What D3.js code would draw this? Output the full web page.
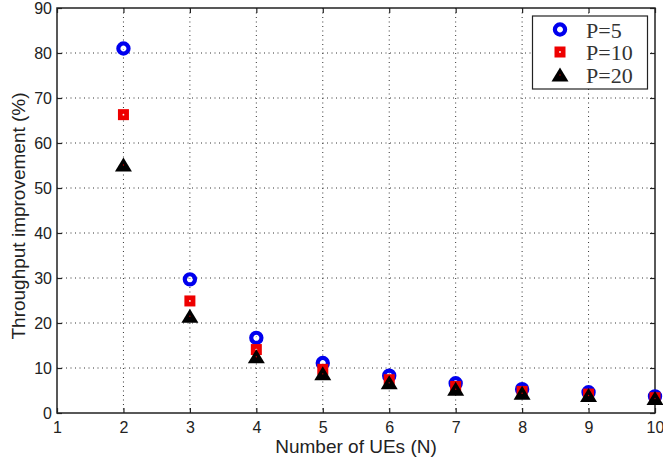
<!DOCTYPE html>
<html>
<head>
<meta charset="utf-8">
<script src="https://cdn.jsdelivr.net/npm/d3@7"></script>
<style>
  body { margin: 0; background: #fff; }
  svg { display: block; }
  .tick text { font-family: "Liberation Sans", Arial, sans-serif; font-size: 16px; fill: #222; }
  .axis-label { font-family: "Liberation Sans", Arial, sans-serif; font-size: 19px; fill: #222; }
  .legend text { font-family: "Liberation Serif", "Times New Roman", serif; font-size: 22px; fill: #333; }
</style>
</head>
<body>
<div id="chart"></div>
<script>
// number of UEs
const ueCounts = [2, 3, 4, 5, 6, 7, 8, 9, 10];
// throughput improvement (%) per power level
const p5 = [81.0, 29.7, 16.7, 11.1, 8.3, 6.6, 5.3, 4.6, 3.7];
const p10 = [66.3, 24.9, 14.1, 9.7, 7.4, 5.9, 4.8, 4.2, 3.4];
const p20 = [55.1, 21.5, 12.5, 8.7, 6.7, 5.3, 4.4, 3.9, 3.2];
const seriesNames = ['P=5', 'P=10', 'P=20'];
const xTicks = [1, 2, 3, 4, 5, 6, 7, 8, 9, 10];
const yTicks = [0, 10, 20, 30, 40, 50, 60, 70, 80, 90];

var margin = {top: 8, right: 8, bottom: 48, left: 57},
  width = 663 - margin.left - margin.right,
  height = 461 - margin.top - margin.bottom;

var svg = d3.select('#chart')
  .append('svg')
  .attr('width', 663)
  .attr('height', 461);

var g = svg.append('g')
  .attr('transform', 'translate(' + margin.left + ',' + margin.top + ')');

var x = d3.scaleLinear().domain([1, 10]).range([0, 598]);
var y = d3.scaleLinear().domain([0, 90]).range([405, 0]);

// dotted grid
g.append('g')
  .selectAll('line')
  .data(xTicks.slice(1, -1))
  .enter()
  .append('line')
  .attr('x1', d => x(d)).attr('x2', d => x(d))
  .attr('y1', 0).attr('y2', y(0))
  .attr('stroke', '#333')
  .attr('stroke-width', 1)
  .attr('stroke-dasharray', '1,3.5');

g.append('g')
  .selectAll('line')
  .data(yTicks.slice(1, -1))
  .enter()
  .append('line')
  .attr('x1', 0).attr('x2', x(10))
  .attr('y1', d => y(d)).attr('y2', d => y(d))
  .attr('stroke', '#333')
  .attr('stroke-width', 1)
  .attr('stroke-dasharray', '1,3.5');

// axes with inward ticks
function styleAxis(sel) {
  sel.select('.domain').remove();
  sel.selectAll('.tick line').attr('stroke', '#222').attr('stroke-width', 1.2);
}

g.append('g')
  .attr('transform', 'translate(0,' + y(0) + ')')
  .call(d3.axisBottom(x).tickValues(xTicks).tickSizeInner(-5).tickSizeOuter(0).tickPadding(9))
  .call(styleAxis);

g.append('g')
  .call(d3.axisLeft(y).tickValues(yTicks).tickSizeInner(-5).tickSizeOuter(0).tickPadding(5))
  .call(styleAxis);

g.append('g')
  .call(d3.axisTop(x).tickValues(xTicks).tickSizeInner(-5).tickSizeOuter(0).tickFormat(''))
  .call(styleAxis);

g.append('g')
  .attr('transform', 'translate(' + x(10) + ',0)')
  .call(d3.axisRight(y).tickValues(yTicks).tickSizeInner(-5).tickSizeOuter(0).tickFormat(''))
  .call(styleAxis);

// box
g.append('rect')
  .attr('x', 0).attr('y', 0)
  .attr('width', x(10)).attr('height', y(0))
  .attr('fill', 'none')
  .attr('stroke', '#222')
  .attr('stroke-width', 1.5);

// markers
var rows = ueCounts.map((n, i) => ({n: n, a: p5[i], b: p10[i], c: p20[i]}));

var triangle = 'M0,-7.5L8.5,6.5L-8.5,6.5Z';

function drawMarker(sel, kind) {
  if (kind === 0) {
    sel.append('circle').attr('r', 5.1)
      .attr('fill', 'none').attr('stroke', '#0000ee').attr('stroke-width', 4.2);
    sel.append('circle').attr('r', 0.8).attr('fill', '#fff');
  } else if (kind === 1) {
    sel.append('rect').attr('x', -5.5).attr('y', -5.5).attr('width', 11).attr('height', 11)
      .attr('fill', '#ee0000');
    sel.append('circle').attr('r', 0.9).attr('fill', '#fff');
  } else {
    sel.append('path').attr('d', triangle)
      .attr('fill', '#000');
    sel.append('circle').attr('r', 0.7).attr('fill', '#c00');
  }
}

[['a', 0], ['b', 1], ['c', 2]].forEach(function (s) {
  g.append('g')
    .selectAll('g')
    .data(rows)
    .enter()
    .append('g')
    .attr('transform', d => 'translate(' + x(d.n) + ',' + y(d[s[0]]) + ')')
    .each(function () { drawMarker(d3.select(this), s[1]); });
});

// legend
var legend = svg.append('g').attr('class', 'legend');
legend.append('rect')
  .attr('x', 532.5).attr('y', 16)
  .attr('width', 115).attr('height', 73)
  .attr('fill', '#fff')
  .attr('stroke', '#222')
  .attr('stroke-width', 1.2);

var legendItem = legend.selectAll('g')
  .data(seriesNames)
  .enter()
  .append('g')
  .attr('transform', (d, i) => 'translate(560,' + [29.5, 52, 75][i] + ')');

legendItem.each(function (d, i) { drawMarker(d3.select(this), i); });

legendItem.append('text')
  .attr('x', 26)
  .attr('y', 8)
  .text(d => d);

// axis labels
svg.append('text')
  .attr('class', 'axis-label')
  .attr('x', 356)
  .attr('y', 453)
  .attr('text-anchor', 'middle')
  .text('Number of UEs (N)');

svg.append('text')
  .attr('class', 'axis-label')
  .attr('transform', 'translate(25,' + 216 + ') rotate(-90)')
  .attr('text-anchor', 'middle')
  .text('Throughput improvement (%)');
</script>
</body>
</html>
